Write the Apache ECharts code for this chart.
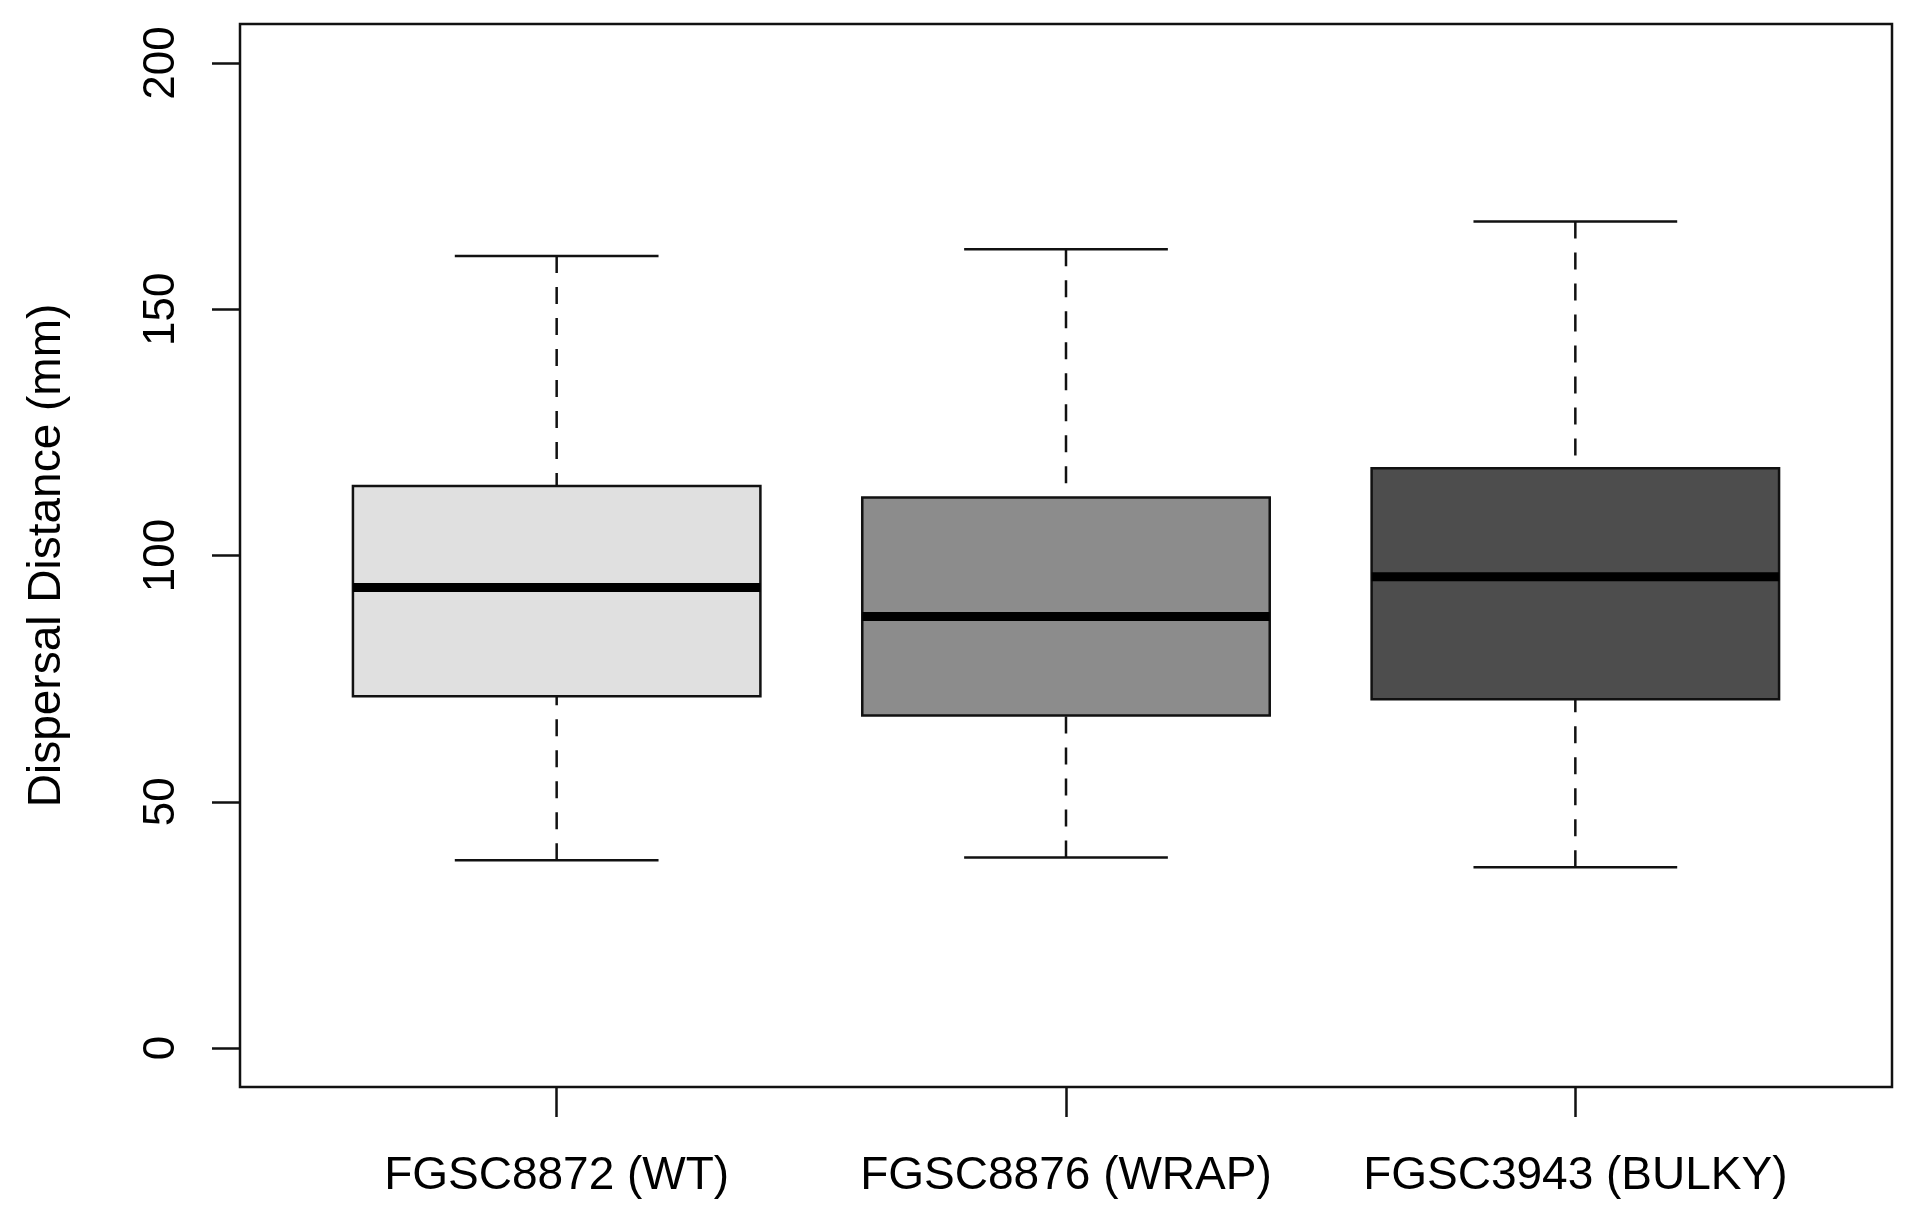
<!DOCTYPE html>
<html>
<head>
<meta charset="utf-8">
<script src="https://cdn.jsdelivr.net/npm/echarts@6/dist/echarts.min.js"></script>
<style>
  html, body { margin: 0; padding: 0; background: #fff; }
  #main { width: 1916px; height: 1221px; }
</style>
</head>
<body>
<div id="main"></div>
<script>
// strains on the x axis
var categories = ['FGSC8872 (WT)', 'FGSC8876 (WRAP)', 'FGSC3943 (BULKY)'];
// box statistics (mm)
var whiskerLow  = [38.1, 38.7, 36.7];
var q1          = [71.4, 67.5, 70.8];
var median      = [93.5, 87.6, 95.7];
var q3          = [114.1, 111.8, 117.7];
var whiskerHigh = [160.8, 162.2, 167.8];
// y axis ticks
var yTicks = [0, 50, 100, 150, 200];

var boxFill = ['#e0e0e0', '#8c8c8c', '#4d4d4d'];
var ink = '#111';
var fontFam = '"Liberation Sans", Arial, Helvetica, sans-serif';

var seriesData = categories.map(function (c, i) {
  return [i, whiskerLow[i], q1[i], median[i], q3[i], whiskerHigh[i]];
});

function renderBox(params, api) {
  var idx = api.value(0);
  var band = api.size([1, 0])[0];
  var boxW = band * 0.8;
  var capW = band * 0.4;
  var pMin = api.coord([idx, api.value(1)]);
  var pQ1 = api.coord([idx, api.value(2)]);
  var pMed = api.coord([idx, api.value(3)]);
  var pQ3 = api.coord([idx, api.value(4)]);
  var pMax = api.coord([idx, api.value(5)]);
  var x = pMed[0];
  var dashStyle = { stroke: ink, lineWidth: 2.5, lineDash: [17, 14], fill: null };
  var solid = { stroke: ink, lineWidth: 2.5, fill: null };
  return {
    type: 'group',
    children: [
      { type: 'line', shape: { x1: x, y1: pMax[1], x2: x, y2: pQ3[1] }, style: dashStyle },
      { type: 'line', shape: { x1: x, y1: pMin[1], x2: x, y2: pQ1[1] }, style: dashStyle },
      { type: 'line', shape: { x1: x - capW / 2, y1: pMax[1], x2: x + capW / 2, y2: pMax[1] }, style: solid },
      { type: 'line', shape: { x1: x - capW / 2, y1: pMin[1], x2: x + capW / 2, y2: pMin[1] }, style: solid },
      {
        type: 'rect',
        shape: { x: x - boxW / 2, y: pQ3[1], width: boxW, height: pQ1[1] - pQ3[1] },
        style: { fill: boxFill[params.dataIndex], stroke: ink, lineWidth: 2.5 }
      },
      { type: 'line', shape: { x1: x - boxW / 2, y1: pMed[1], x2: x + boxW / 2, y2: pMed[1] },
        style: { stroke: '#000', lineWidth: 9 } }
    ]
  };
}

var myChart = echarts.init(document.getElementById('main'));
var option = {
  backgroundColor: '#fff',
  animation: false,
  grid: [
    // outer frame (R box)
    { left: 240, top: 24, width: 1652, height: 1063, show: true,
      borderColor: ink, borderWidth: 2.5, backgroundColor: 'transparent' },
    // data area: 0..200 and the three category bands
    { left: 302, top: 63, width: 1528, height: 985 }
  ],
  xAxis: [
    { gridIndex: 0, type: 'value', show: false, min: 0, max: 1 },
    {
      gridIndex: 1,
      type: 'category',
      data: categories,
      position: 'bottom',
      offset: 39,
      axisLine: { show: false, onZero: false },
      axisTick: { show: true, alignWithLabel: true, length: 30, lineStyle: { color: ink, width: 2.5 } },
      axisLabel: { interval: 0, margin: 66, fontSize: 46, color: '#000', fontFamily: fontFam },
      splitLine: { show: false }
    }
  ],
  yAxis: [
    { gridIndex: 0, type: 'value', show: false, min: 0, max: 1 },
    {
      gridIndex: 1,
      type: 'value',
      min: yTicks[0],
      max: yTicks[yTicks.length - 1],
      interval: 50,
      offset: 62,
      name: 'Dispersal Distance (mm)',
      nameLocation: 'middle',
      nameRotate: 90,
      nameGap: 170,
      nameTextStyle: { fontSize: 46, color: '#000', fontFamily: fontFam },
      axisLine: { show: false, onZero: false },
      axisTick: { show: true, length: 28, lineStyle: { color: ink, width: 2.5 } },
      axisLabel: { rotate: 90, margin: 56, fontSize: 44, color: '#000', fontFamily: fontFam },
      splitLine: { show: false }
    }
  ],
  series: [{
    type: 'custom',
    xAxisIndex: 1,
    yAxisIndex: 1,
    renderItem: renderBox,
    encode: { x: 0, y: [1, 2, 3, 4, 5] },
    data: seriesData
  }]
};
myChart.setOption(option);
</script>
</body>
</html>
